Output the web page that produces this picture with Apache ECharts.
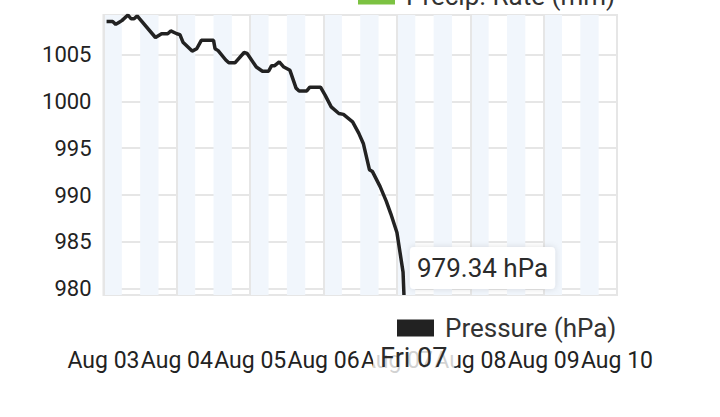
<!DOCTYPE html>
<html>
<head>
<meta charset="utf-8">
<script src="https://cdn.jsdelivr.net/npm/echarts@6/dist/echarts.min.js"></script>
<style>
  html, body { margin: 0; padding: 0; background: #fff; }
  #chart { width: 720px; height: 417px; }
</style>
</head>
<body>
<div id="chart"></div>
<script>
// hours since Aug 03 00:00
const hours = [1, 3, 4, 5, 6, 8, 9, 10, 11, 17, 19, 21, 22,
  24, 25, 26, 29, 30.5, 32, 36, 36.5, 37.5, 40, 41, 43, 46, 47,
  50, 52, 54, 55, 56, 57.5, 59, 61, 63, 64, 66.5, 67.5, 71,
  72.5, 74.5, 77, 78.5, 81.5, 83.5, 85, 87, 88, 90.5, 92.5, 94,
  96, 97, 98, 98.3];
const pressure = [1008.5, 1008.5, 1008.2, 1008.4, 1008.6, 1009.2, 1008.8, 1008.8, 1009.1, 1006.8, 1007.2, 1007.2, 1007.5,
  1007.2, 1007.1, 1006.3, 1005.35, 1005.6, 1006.5, 1006.5, 1005.6, 1005.4, 1004.4, 1004.1, 1004.1, 1005.2, 1005.1,
  1003.65, 1003.2, 1003.2, 1003.8, 1003.8, 1004.2, 1003.65, 1003.3, 1001.4, 1001.1, 1001.1, 1001.5, 1001.5,
  1000.65, 999.4, 998.7, 998.6, 997.8, 996.6, 995.5, 992.7, 992.5, 990.9, 989.35, 988,
  986, 983.9, 981.8, 979.34];
const precip = [];
const dayLabels = ['Aug 03', 'Aug 04', 'Aug 05', 'Aug 06', 'Aug 07', 'Aug 08', 'Aug 09', 'Aug 10'];
const pointerLabel = 'Fri 07';
const pointerHour = 101.5;

const font = 'Roboto, "Noto Sans", sans-serif';
let chart = echarts.init(document.getElementById('chart'), null, { renderer: 'svg' });

const option = {
  animation: false,
  textStyle: { fontFamily: font },
  grid: {
    left: 103.5, right: 103, top: 15, bottom: 122,
    containLabel: false, outerBoundsMode: 'none',
    show: true, borderColor: '#e6e6e6', borderWidth: 2
  },
  legend: [
    {
      data: ['Precip. Rate (mm)'],
      left: 353, top: -22,
      itemWidth: 37, itemHeight: 17, icon: 'rect',
      textStyle: { fontSize: 26, color: '#333', fontFamily: font, padding: [0, 0, 0, 6] }
    },
    {
      data: ['Pressure (hPa)'],
      left: 392, top: 310,
      itemWidth: 37, itemHeight: 17, icon: 'rect',
      textStyle: { fontSize: 26, color: '#333', fontFamily: font, padding: [0, 0, 0, 6] }
    }
  ],
  xAxis: [
    {
      // 6 hour bands
      type: 'value', position: 'bottom', min: 0, max: 168, interval: 6,
      axisLine: { show: false }, axisTick: { show: false }, axisLabel: { show: false },
      splitLine: { show: false },
      splitArea: { show: true, areaStyle: { color: ['#f1f6fc', 'rgba(255,255,255,0)'] } }
    },
    {
      type: 'value', position: 'bottom', offset: 0, min: 0, max: 168, interval: 24,
      axisLine: { show: false }, axisTick: { show: false },
      axisLabel: {
        margin: 54, fontSize: 23, color: '#222', fontFamily: font,
        formatter: function (v) { return dayLabels[Math.round(v / 24)]; }
      },
      splitLine: { show: true, lineStyle: { color: '#e6e6e6', width: 2 } },
      axisPointer: {
        show: true, value: pointerHour, status: 'show', snap: false, triggerTooltip: false,
        lineStyle: { opacity: 0 },
        label: {
          show: true, margin: 45, fontSize: 27, color: '#2b2b2b', fontFamily: font,
          backgroundColor: 'rgba(255,255,255,0.8)', padding: [4, 7],
          formatter: function () { return pointerLabel; }
        }
      }
    }
  ],
  yAxis: {
    type: 'value', min: 'dataMin', max: 'dataMax',
    axisLine: { show: false }, axisTick: { show: false },
    axisLabel: {
      margin: 12, fontSize: 22, color: '#222', fontFamily: font, showMinLabel: false, showMaxLabel: false,
      formatter: function (v) { return String(v); }
    },
    splitLine: { lineStyle: { color: '#e6e6e6', width: 2 } }
  },
  series: [
    {
      name: 'Precip. Rate (mm)', type: 'bar', xAxisIndex: 0,
      itemStyle: { color: '#7cc242' },
      data: precip
    },
    {
      name: 'Pressure (hPa)', type: 'line', xAxisIndex: 1,
      showSymbol: false, symbol: 'none',
      itemStyle: { color: '#222' },
      lineStyle: { color: '#222', width: 3.5 },
      data: hours.map((h, i) => [h, pressure[i]]),
      endLabel: {
        show: true, distance: 6, offset: [0, -27],
        fontSize: 26, color: '#2b2b2b', fontFamily: font,
        backgroundColor: '#fff', padding: [8, 7], borderRadius: 4,
        shadowBlur: 6, shadowColor: 'rgba(0,0,0,0.12)',
        formatter: function (p) { return p.value[1] + ' hPa'; }
      }
    }
  ]
};
chart.setOption(option);
</script>
</body>
</html>
